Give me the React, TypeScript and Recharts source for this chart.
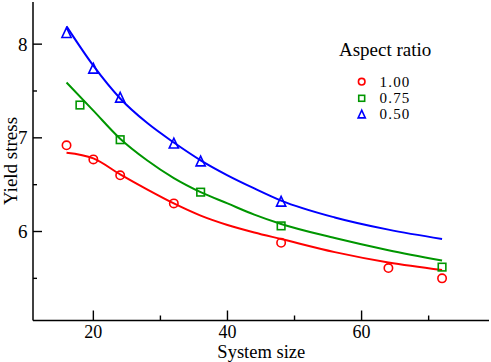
import React from 'react';
import { ComposedChart, Line, Scatter, XAxis, YAxis, Label, Legend } from 'recharts';

// ---- data ----
const redPtsX = [16, 20, 24, 32, 48, 64, 72];
const redPtsY = [6.92, 6.77, 6.6, 6.3, 5.88, 5.61, 5.5];
const greenPtsX = [18, 24, 36, 48, 72];
const greenPtsY = [7.35, 6.98, 6.42, 6.06, 5.62];
const bluePtsX = [16, 20, 24, 32, 36, 48];
const bluePtsY = [8.12, 7.74, 7.43, 6.94, 6.75, 6.32];

const fitX = [16, 20, 24, 28, 32, 36, 40, 44, 48, 56, 64, 72];
const redFitY = [6.84, 6.78, 6.61, 6.45, 6.3, 6.17, 6.07, 5.99, 5.92, 5.78, 5.67, 5.59];
const greenFitY = [7.59, 7.29, 6.99, 6.76, 6.57, 6.42, 6.3, 6.18, 6.08, 5.93, 5.8, 5.69];
const blueFitY = [8.19, 7.77, 7.42, 7.16, 6.95, 6.76, 6.6, 6.46, 6.33, 6.15, 6.02, 5.92];

const xTicks = [20, 30, 40, 50, 60, 70];
const yTicks = [5.5, 6, 6.5, 7, 7.5, 8];
const legendTitle = 'Aspect ratio';
const seriesNames = ['1.00', '0.75', '0.50'];

const RED = '#ff0000';
const GREEN = '#009600';
const BLUE = '#0000ff';
const FONT = "'Liberation Serif', 'DejaVu Serif', serif";

const zip = (xs: number[], ys: number[]) => xs.map((x, i) => ({ x, y: ys[i] }));
const redPts = zip(redPtsX, redPtsY);
const greenPts = zip(greenPtsX, greenPtsY);
const bluePts = zip(bluePtsX, bluePtsY);
const redFit = zip(fitX, redFitY);
const greenFit = zip(fitX, greenFitY);
const blueFit = zip(fitX, blueFitY);

// ---- markers ----
const circleMark = (cx: number, cy: number, s = 1) => (
  <circle cx={cx} cy={cy} r={4.2 * s} fill="none" stroke={RED} strokeWidth={1.6} />
);
const squareMark = (cx: number, cy: number, s = 1) => (
  <rect x={cx - 3.8 * s} y={cy - 3.8 * s} width={7.6 * s} height={7.6 * s} fill="none" stroke={GREEN} strokeWidth={1.6} />
);
const triMark = (cx: number, cy: number, s = 1) => (
  <polygon
    points={`${cx},${cy - 5.2 * s} ${cx - 4.6 * s},${cy + 4.6 * s} ${cx + 4.6 * s},${cy + 4.6 * s}`}
    fill="none"
    stroke={BLUE}
    strokeWidth={1.6}
    strokeLinejoin="miter"
  />
);

// ---- ticks ----
const BottomTick = (p: any) => {
  const major = p.payload.value % 20 === 0;
  return (
    <g>
      <line x1={p.x} y1={p.y} x2={p.x} y2={p.y - (major ? 10 : 5)} stroke="#000" strokeWidth={1.4} />
      {major && (
        <text x={p.x} y={p.y + 17.5} textAnchor="middle" fontFamily={FONT} fontSize={18} fill="#000">
          {p.payload.value}
        </text>
      )}
    </g>
  );
};
const TopTick = (p: any) => {
  const major = p.payload.value % 20 === 0;
  return <line x1={p.x} y1={p.y} x2={p.x} y2={p.y + (major ? 9 : 5)} stroke="#000" strokeWidth={1.4} />;
};
const LeftTick = (p: any) => {
  const major = Number.isInteger(p.payload.value);
  return (
    <g>
      <line x1={p.x} y1={p.y} x2={p.x + (major ? 9 : 4)} y2={p.y} stroke="#000" strokeWidth={1.4} />
      {major && (
        <text x={p.x - 5.5} y={p.y + 6.5} textAnchor="end" fontFamily={FONT} fontSize={19} fill="#000">
          {p.payload.value}
        </text>
      )}
    </g>
  );
};
const RightTick = (p: any) => {
  const major = Number.isInteger(p.payload.value);
  return <line x1={p.x} y1={p.y} x2={p.x - (major ? 9 : 4)} y2={p.y} stroke="#000" strokeWidth={1.4} />;
};

const LegendBox = () => {
  const marks = [circleMark, squareMark, triMark];
  const rowsY = [11.7, 28.3, 44.3];
  return (
    <svg width={150} height={90} style={{ overflow: 'visible' }}>
      <text x={9} y={-14} fontFamily={FONT} fontSize={19} fill="#000">
        {legendTitle}
      </text>
      {seriesNames.map((n, i) => (
        <g key={n}>
          {marks[i](31.7, rowsY[i], 0.78)}
          <text x={49.5} y={rowsY[i] + 5} fontFamily={FONT} fontSize={15} letterSpacing={1.2} fill="#000">
            {n}
          </text>
        </g>
      ))}
    </svg>
  );
};

export default function App() {
  return (
    <div style={{ position: 'absolute', left: 0, top: 0, background: '#fff' }}>
      <ComposedChart width={491} height={362} margin={{ top: 2, right: 2, bottom: 0, left: 0 }}>
        <XAxis
          xAxisId={0}
          type="number"
          dataKey="x"
          domain={[11, 79]}
          allowDataOverflow
          ticks={xTicks}
          interval={0}
          height={41.5}
          tickSize={0}
          tickMargin={0}
          tickLine={false}
          tick={BottomTick}
          axisLine={{ stroke: '#000', strokeWidth: 1.5 }}
        >
          <Label
            content={() => (
              <text x={261.3} y={358} textAnchor="middle" fontFamily={FONT} fontSize={18.5} fill="#000">
                System size
              </text>
            )}
          />
        </XAxis>
        <XAxis
          xAxisId="top"
          orientation="top"
          type="number"
          domain={[11, 79]}
          allowDataOverflow
          ticks={xTicks}
          interval={0}
          height={0}
          tickSize={0}
          tickMargin={0}
          tickLine={false}
          tick={TopTick}
          axisLine={{ stroke: '#000', strokeWidth: 1.5 }}
        />
        <YAxis
          yAxisId={0}
          type="number"
          dataKey="y"
          domain={[5.05, 8.45]}
          allowDataOverflow
          ticks={yTicks}
          interval={0}
          width={33}
          tickSize={0}
          tickMargin={0}
          tickLine={false}
          tick={LeftTick}
          axisLine={{ stroke: '#000', strokeWidth: 1.5 }}
        >
          <Label
            content={() => (
              <text
                x={16.5}
                y={161}
                transform="rotate(-90 16.5 161)"
                textAnchor="middle"
                fontFamily={FONT}
                fontSize={19}
                fill="#000"
              >
                Yield stress
              </text>
            )}
          />
        </YAxis>
        <YAxis
          yAxisId="right"
          orientation="right"
          type="number"
          domain={[5.05, 8.45]}
          allowDataOverflow
          ticks={yTicks}
          interval={0}
          width={0}
          tickSize={0}
          tickMargin={0}
          tickLine={false}
          tick={RightTick}
          axisLine={{ stroke: '#000', strokeWidth: 1.5 }}
        />
        <Line data={redFit} dataKey="y" type="monotone" stroke={RED} strokeWidth={2} dot={false} isAnimationActive={false} />
        <Line data={greenFit} dataKey="y" type="monotone" stroke={GREEN} strokeWidth={2} dot={false} isAnimationActive={false} />
        <Line data={blueFit} dataKey="y" type="monotone" stroke={BLUE} strokeWidth={2} dot={false} isAnimationActive={false} />
        <Scatter data={redPts} dataKey="y" isAnimationActive={false} shape={(p: any) => circleMark(p.cx, p.cy)} />
        <Scatter data={greenPts} dataKey="y" isAnimationActive={false} shape={(p: any) => squareMark(p.cx, p.cy)} />
        <Scatter data={bluePts} dataKey="y" isAnimationActive={false} shape={(p: any) => triMark(p.cx, p.cy)} />
        <Legend
          layout="horizontal"
          verticalAlign="middle"
          align="center"
          content={() => <LegendBox />}
          wrapperStyle={{ position: 'absolute', left: 330, top: 70, width: 150, height: 90 }}
        />
      </ComposedChart>
    </div>
  );
}
